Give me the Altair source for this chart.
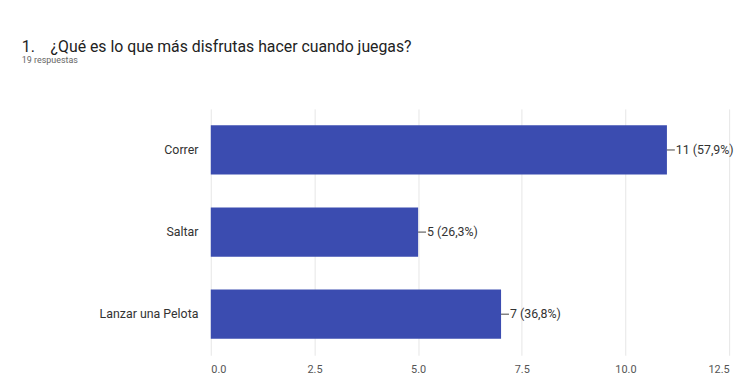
import altair as alt
import pandas as pd

categories = ["Correr", "Saltar", "Lanzar una Pelota"]
counts = [11, 5, 7]
value_labels = ["11 (57,9%)", "5 (26,3%)", "7 (36,8%)"]

df = pd.DataFrame({"cat": categories, "n": counts, "lab": value_labels})

FONT = "Roboto"

x = alt.X("n:Q", scale=alt.Scale(domain=[0, 12.5], nice=False),
          axis=alt.Axis(values=[0, 2.5, 5, 7.5, 10, 12.5], format=".1f", title=None,
                        domain=False, ticks=False, grid=True, gridColor="#e6e6e6",
                        labelColor="#555555", labelFontSize=11, labelFont=FONT, labelPadding=8))
y = alt.Y("cat:N", sort=categories,
          scale=alt.Scale(paddingInner=0.4, paddingOuter=0.2),
          axis=alt.Axis(title=None, domain=False, ticks=False, labelColor="#333333",
                        labelFontSize=12.5, labelFont=FONT, labelPadding=13))

base = alt.Chart(df)
bars = base.mark_bar(color="#3b4cb0").encode(x=x, y=y)
lead = base.mark_rule(color="#444444", x2Offset=8, strokeWidth=1).encode(x="n:Q", x2="n:Q", y=alt.Y("cat:N", sort=categories))
txt = base.mark_text(align="left", baseline="middle", dx=9, fontSize=12.5, font=FONT, color="#333333").encode(
    x="n:Q", y=alt.Y("cat:N", sort=categories), text="lab:N")

chart = alt.layer(bars, lead, txt).properties(
    width=524, height=249,
    autosize=alt.AutoSizeParams(type="none"),
    padding={"left": 205, "top": 100, "right": 12, "bottom": 22},
    title=alt.TitleParams(
        text="1.\u00a0\u00a0\u00a0\u00a0¿Qué es lo que más disfrutas hacer cuando juegas?",
        subtitle="19 respuestas",
        anchor="start", frame="group", dx=-191, offset=44,
        font=FONT, fontSize=16, fontWeight="normal", color="#222222",
        subtitleFont=FONT, subtitleFontSize=9, subtitleColor="#666666", subtitlePadding=2),
).configure_view(stroke=None)

chart.save("out.html", embed_options={"renderer": "svg", "actions": False})
